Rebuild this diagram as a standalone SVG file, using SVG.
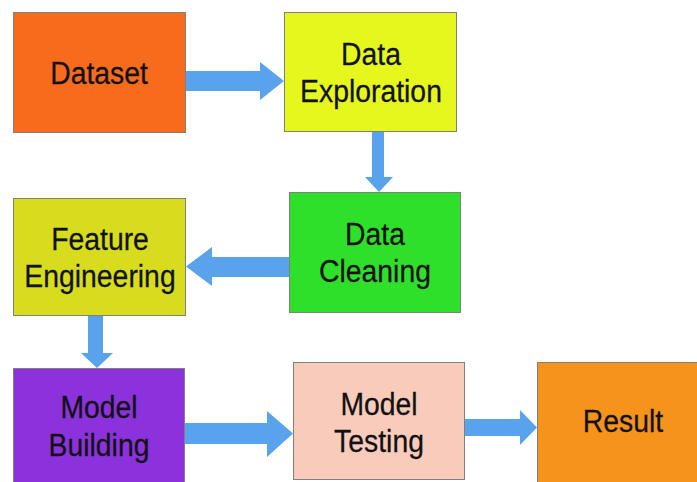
<svg xmlns="http://www.w3.org/2000/svg" width="697" height="482" viewBox="0 0 697 482">
  <style>
    .box { stroke: #808080; stroke-width: 1; }
    .arrow { fill: #58a3ec; stroke: none; }
    .label { font-family: "Liberation Sans", Arial, sans-serif; font-size: 30.5px; fill: #111111; text-anchor: middle; stroke: #111111; stroke-width: 0.25; }
  </style>
  <rect width="697" height="482" fill="#ffffff"/>

  <!-- connectors: block arrows -->
  <g id="connectors">
    <polygon class="arrow" points="186,71 260,71 260,62 284,81 260,100 260,91 186,91"/>
    <polygon class="arrow" points="372,131 384,131 384,177 393,177 379,192 365,177 372,177"/>
    <polygon class="arrow" points="289,257 212,257 212,247 186,266.5 212,286 212,277 289,277"/>
    <polygon class="arrow" points="88,316 103,316 103,353 113,353 97,368 81,353 88,353"/>
    <polygon class="arrow" points="185,423 267,423 267,411 293,433.5 267,457 267,444 185,444"/>
    <polygon class="arrow" points="465,419 520,419 520,410 537,427.5 520,445 520,436 465,436"/>
  </g>

  <g id="dataset">
    <rect class="box" x="13.5" y="12.5" width="172" height="120" fill="#f76b1c"/>
    <text class="label" transform="translate(99,84) scale(0.93,1.03)">Dataset</text>
  </g>

  <g id="data-exploration">
    <rect class="box" x="284.5" y="12.5" width="172" height="119" fill="#e6f71e"/>
    <text class="label" transform="translate(371,65) scale(0.93,1.03)">Data</text>
    <text class="label" transform="translate(371,102) scale(0.93,1.03)">Exploration</text>
  </g>

  <g id="data-cleaning">
    <rect class="box" x="289.5" y="192.5" width="171" height="120" fill="#2fe02a"/>
    <text class="label" transform="translate(375,245) scale(0.93,1.03)">Data</text>
    <text class="label" transform="translate(375,282) scale(0.93,1.03)">Cleaning</text>
  </g>

  <g id="feature-engineering">
    <rect class="box" x="13.5" y="198.5" width="172" height="117" fill="#d7dd1c"/>
    <text class="label" transform="translate(100,250) scale(0.93,1.03)">Feature</text>
    <text class="label" transform="translate(100,287) scale(0.93,1.03)">Engineering</text>
  </g>

  <g id="model-building">
    <rect class="box" x="13.5" y="368.5" width="171" height="120" fill="#8b32dd"/>
    <text class="label" transform="translate(99,418) scale(0.93,1.03)">Model</text>
    <text class="label" transform="translate(99,456) scale(0.93,1.03)">Building</text>
  </g>

  <g id="model-testing">
    <rect class="box" x="293.5" y="362.5" width="171" height="117" fill="#f8cbbb"/>
    <text class="label" transform="translate(379,415) scale(0.93,1.03)">Model</text>
    <text class="label" transform="translate(379,452) scale(0.93,1.03)">Testing</text>
  </g>

  <g id="result">
    <rect class="box" x="537.5" y="362.5" width="170" height="130" fill="#f6931a"/>
    <text class="label" transform="translate(623,432) scale(0.93,1.03)">Result</text>
  </g>
</svg>
